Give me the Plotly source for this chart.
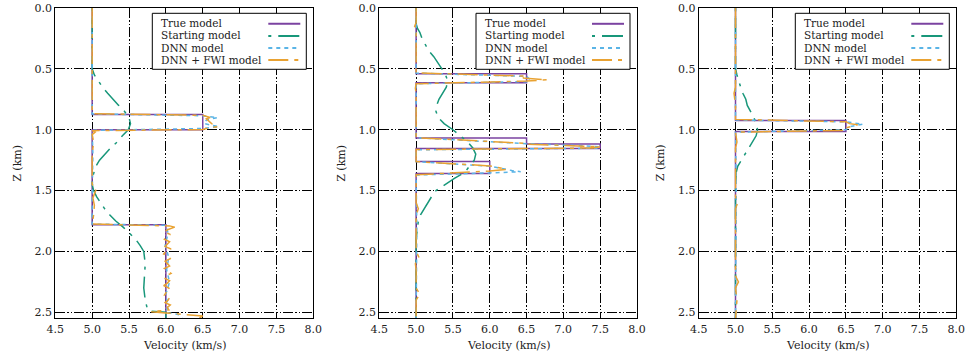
import plotly.graph_objects as go

# ---------------- data ----------------
series_names = ["True model", "Starting model", "DNN model", "DNN + FWI model"]
x_ticks = [4.5, 5.0, 5.5, 6.0, 6.5, 7.0, 7.5, 8.0]
z_ticks = [0.0, 0.5, 1.0, 1.5, 2.0, 2.5]

# Panel 1
p1_true_z = [0.0, 0.875, 0.875, 1.0, 1.0, 1.78, 1.78, 2.55]
p1_true_v = [5.0, 5.0, 6.5, 6.5, 5.0, 5.0, 6.0, 6.0]
p1_start_z = [0.0, 0.5, 0.55, 0.6, 0.65, 0.7, 0.75, 0.8, 0.85, 0.9, 0.95, 1.0, 1.05, 1.1, 1.15,
              1.2, 1.25, 1.3, 1.35, 1.4, 1.45, 1.5, 1.55, 1.6, 1.65, 1.7, 1.75, 1.8, 1.85, 1.9,
              1.95, 2.0, 2.1, 2.2, 2.3, 2.4, 2.45, 2.49, 2.5, 2.55]
p1_start_v = [5.0, 5.0, 5.03, 5.08, 5.14, 5.21, 5.28, 5.36, 5.44, 5.5, 5.52, 5.49, 5.41, 5.34, 5.25,
              5.17, 5.1, 5.05, 5.02, 5.0, 5.0, 5.02, 5.06, 5.11, 5.17, 5.24, 5.32, 5.42, 5.51, 5.59,
              5.65, 5.7, 5.72, 5.71, 5.7, 5.72, 5.74, 5.77, 6.0, 6.0]
p1_dnn_z = [0.0, 0.87, 0.885, 0.9, 0.92, 0.95, 0.975, 0.99, 1.005, 1.2, 1.6, 1.775, 1.785, 1.85,
            1.95, 2.05, 2.15, 2.25, 2.35, 2.45, 2.5, 2.52, 2.55]
p1_dnn_v = [5.0, 5.0, 6.5, 6.7, 6.55, 6.52, 6.72, 6.5, 5.0, 5.01, 5.0, 5.0, 6.0, 6.03,
            5.99, 6.04, 6.01, 6.05, 6.0, 6.03, 6.0, 6.18, 6.22]
p1_fwi_z = [0.0, 0.4, 0.868, 0.882, 0.9, 0.91, 0.93, 0.95, 0.96, 0.975, 0.99, 0.998, 1.008, 1.02,
            1.04, 1.1, 1.2, 1.45, 1.48, 1.52, 1.56, 1.62, 1.7, 1.775, 1.79, 1.8,
            1.82, 1.84, 1.86, 1.88, 1.9, 1.92, 1.94, 1.96, 1.98, 2.0, 2.02, 2.04, 2.06, 2.08,
            2.1, 2.12, 2.14, 2.16, 2.18, 2.2, 2.22, 2.24, 2.26, 2.28, 2.3, 2.32, 2.34, 2.36,
            2.38, 2.4, 2.42, 2.44, 2.46, 2.48, 2.495, 2.505, 2.52, 2.53, 2.55]
p1_fwi_v = [5.0, 5.0, 5.0, 6.5, 6.6, 6.55, 6.58, 6.62, 6.68, 6.7, 6.55, 6.5, 5.0, 5.04,
            5.0, 5.02, 5.0, 5.0, 5.06, 5.04, 5.01, 5.03, 5.02, 5.0, 6.05, 6.12,
            6.03, 5.97, 6.06, 6.01, 5.98, 6.05, 6.02, 5.99, 6.07, 6.0, 5.97, 6.04, 6.06, 5.99,
            6.02, 6.05, 5.98, 6.03, 6.07, 6.0, 5.98, 6.05, 6.02, 5.97, 6.04, 6.06, 6.0, 5.98,
            6.05, 6.03, 5.99, 6.06, 6.02, 6.04, 5.8, 6.0, 6.3, 6.5, 6.45]

# Panel 2
p2_true_z = [0.0, 0.54, 0.54, 0.615, 0.615, 1.068, 1.068, 1.117, 1.117, 1.155, 1.155, 1.262,
             1.262, 1.36, 1.36, 2.55]
p2_true_v = [5.0, 5.0, 6.5, 6.5, 5.0, 5.0, 6.5, 6.5, 7.5, 7.5, 5.0, 5.0, 6.0, 6.0, 5.0, 5.0]
p2_start_z = [0.0, 0.13, 0.17, 0.2, 0.25, 0.3, 0.35, 0.4, 0.45, 0.5, 0.55, 0.6, 0.65, 0.7, 0.75,
              0.8, 0.85, 0.9, 0.95, 1.0, 1.05, 1.1, 1.15, 1.2, 1.25, 1.3, 1.35, 1.4, 1.45, 1.5,
              1.55, 1.6, 1.65, 1.7, 1.75, 1.8, 1.9, 2.55]
p2_start_v = [5.0, 5.0, 5.02, 5.05, 5.08, 5.12, 5.17, 5.24, 5.3, 5.35, 5.4, 5.43, 5.41, 5.36, 5.31,
              5.28, 5.27, 5.3, 5.38, 5.5, 5.6, 5.7, 5.77, 5.81, 5.79, 5.73, 5.66, 5.52, 5.4, 5.27,
              5.21, 5.16, 5.11, 5.06, 5.03, 5.02, 5.0, 5.0]
p2_dnn_z = [0.0, 0.535, 0.562, 0.59, 0.605, 0.622, 1.066, 1.115, 1.13, 1.14, 1.152, 1.165, 1.262,
            1.3, 1.335, 1.345, 1.355, 1.372, 1.8, 2.2, 2.55]
p2_dnn_v = [5.0, 5.0, 6.5, 6.55, 6.5, 5.0, 5.0, 6.5, 7.2, 7.5, 7.45, 5.0, 5.0,
            6.0, 6.3, 6.42, 6.0, 5.0, 5.01, 5.0, 5.0]
p2_fwi_z = [0.0, 0.12, 0.15, 0.18, 0.21, 0.25, 0.533, 0.56, 0.575, 0.59, 0.6, 0.622, 0.66, 0.7,
            1.0, 1.066, 1.112, 1.118, 1.14, 1.15, 1.163, 1.2, 1.262, 1.297, 1.31, 1.325, 1.34,
            1.37, 1.45, 1.6, 1.65, 1.7, 1.9, 2.0, 2.05, 2.1, 2.15, 2.3, 2.35, 2.4, 2.55]
p2_fwi_v = [5.0, 5.0, 4.98, 5.02, 5.0, 5.0, 5.0, 6.5, 6.45, 6.78, 6.5, 5.0, 4.99, 5.0,
            5.0, 5.0, 6.5, 6.5, 7.5, 7.4, 5.0, 5.0, 5.0, 6.0, 6.1, 6.23, 6.0,
            5.0, 5.0, 5.0, 5.03, 5.0, 5.0, 5.0, 5.04, 4.99, 5.0, 5.0, 5.05, 5.0, 5.0]

# Panel 3
p3_true_z = [0.0, 0.925, 0.925, 1.015, 1.015, 2.55]
p3_true_v = [5.0, 5.0, 6.5, 6.5, 5.0, 5.0]
p3_start_z = [0.0, 0.5, 0.55, 0.6, 0.65, 0.7, 0.75, 0.8, 0.85, 0.9, 0.95, 1.0, 1.05, 1.1, 1.15,
              1.2, 1.25, 1.3, 1.35, 1.4, 1.45, 2.55]
p3_start_v = [5.0, 5.0, 5.02, 5.04, 5.07, 5.1, 5.14, 5.16, 5.21, 5.25, 5.28, 5.3, 5.28, 5.23, 5.18,
              5.12, 5.07, 5.03, 5.01, 5.0, 5.0, 5.0]
p3_dnn_z = [0.0, 0.92, 0.935, 0.945, 0.955, 0.975, 1.0, 1.02, 1.5, 2.55]
p3_dnn_v = [5.0, 5.0, 6.5, 6.6, 6.73, 6.55, 6.5, 5.0, 5.01, 5.0]
p3_fwi_z = [0.0, 0.1, 0.65, 0.7, 0.75, 0.8, 0.915, 0.935, 0.95, 0.96, 0.985, 1.005, 1.02, 1.1,
            1.15, 1.55, 1.6, 1.65, 2.2, 2.25, 2.3, 2.4, 2.55]
p3_fwi_v = [5.0, 5.0, 5.0, 4.98, 4.99, 5.0, 5.0, 6.5, 6.55, 6.66, 6.5, 6.5, 5.0, 5.02,
            5.0, 5.0, 5.03, 5.0, 5.0, 5.04, 5.0, 5.02, 5.0]

# ---------------- styling ----------------
colors = ["#7B43A1", "#18977A", "#5AB4E6", "#E9A232"]
dashes = ["solid", "3px,7px,21px,7px", "4px,4px", "20px,6px,4px,6px"]
FONT = "DejaVu Serif"
TXT = "#222"
GRID_DASH = "10px,2px,1.5px,2px,1.5px,2px"

panels = [
    [(p1_true_v, p1_true_z), (p1_start_v, p1_start_z), (p1_dnn_v, p1_dnn_z), (p1_fwi_v, p1_fwi_z)],
    [(p2_true_v, p2_true_z), (p2_start_v, p2_start_z), (p2_dnn_v, p2_dnn_z), (p2_fwi_v, p2_fwi_z)],
    [(p3_true_v, p3_true_z), (p3_start_v, p3_start_z), (p3_dnn_v, p3_dnn_z), (p3_fwi_v, p3_fwi_z)],
]

W, H = 969, 359
x_px = [(55.3, 313.3), (379.3, 637.0), (698.7, 956.3)]
y_top, y_bot = 8.0, 318.4
plot_h = y_bot - y_top

fig = go.Figure()
layout = dict(
    width=W, height=H, margin=dict(l=0, r=0, t=0, b=0),
    paper_bgcolor="white", plot_bgcolor="white", showlegend=False,
    font=dict(family=FONT, size=11, color=TXT),
)
shapes, annotations = [], []

# legend rows (pixels from plot top)
text_rows_px = [15.0, 27.3, 39.6, 51.9]
line_rows_px = [15.8, 27.9, 40.0, 52.0]

for i, panel in enumerate(panels):
    s = "" if i == 0 else str(i + 1)
    pw = x_px[i][1] - x_px[i][0]
    for k, (v, z) in enumerate(panel):
        fig.add_trace(go.Scatter(
            x=v, y=z, mode="lines", name=series_names[k],
            line=dict(color=colors[k], width=1.5, dash=dashes[k]),
            xaxis="x" + s, yaxis="y" + s, hoverinfo="skip"))
    axcommon = dict(showline=True, mirror=True, linecolor="black", linewidth=1,
                    showgrid=True, gridcolor="black", gridwidth=1, griddash=GRID_DASH,
                    zeroline=False, ticks="", tickfont=dict(family=FONT, size=11, color=TXT),
                    automargin=False, fixedrange=True)
    layout["xaxis" + s] = dict(axcommon, domain=[x_px[i][0] / W, x_px[i][1] / W],
                               range=[4.5, 8.0], tickvals=x_ticks, tickformat=".1f",
                               anchor="y" + s)
    layout["yaxis" + s] = dict(axcommon, domain=[1 - y_bot / H, 1 - y_top / H],
                               range=[2.55, 0.0], tickvals=z_ticks, tickformat=".1f",
                               anchor="x" + s)
    xd, yd = "x" + s + " domain", "y" + s + " domain"
    # legend box (gnuplot style: text left, sample right)
    shapes.append(dict(type="rect", xref=xd, yref=yd,
                       x0=1 - 161 / pw, x1=1 - 7 / pw,
                       y0=1 - 61.3 / plot_h, y1=1 - 5.3 / plot_h,
                       fillcolor="white", line=dict(color="black", width=1), layer="above"))
    for k in range(4):
        annotations.append(dict(xref=xd, yref=yd, x=1 - 154 / pw,
                                y=1 - text_rows_px[k] / plot_h, text=series_names[k],
                                showarrow=False, xanchor="left", yanchor="middle",
                                font=dict(family=FONT, size=10.5, color=TXT)))
        shapes.append(dict(type="line", xref=xd, yref=yd, x0=1 - 45 / pw, x1=1 - 13 / pw,
                           y0=1 - line_rows_px[k] / plot_h, y1=1 - line_rows_px[k] / plot_h,
                           layer="above",
                           line=dict(color=colors[k], width=2, dash=dashes[k])))
    # axis titles
    annotations.append(dict(xref=xd, yref="paper", x=-38.5 / pw, y=1 - 163 / H, text="Z (km)",
                            textangle=-90, showarrow=False, xanchor="center", yanchor="middle",
                            font=dict(family=FONT, size=11, color=TXT)))
    annotations.append(dict(xref=xd, yref="paper", x=0.5, y=1 - 345.7 / H,
                            text="Velocity (km/s)", showarrow=False, xanchor="center",
                            yanchor="middle", font=dict(family=FONT, size=11, color=TXT)))

layout["shapes"] = shapes
layout["annotations"] = annotations
fig.update_layout(**layout)
fig.write_html("out.html", config={"displayModeBar": False, "staticPlot": True},
               post_script="document.body.style.margin='0';document.body.style.padding='0';")
